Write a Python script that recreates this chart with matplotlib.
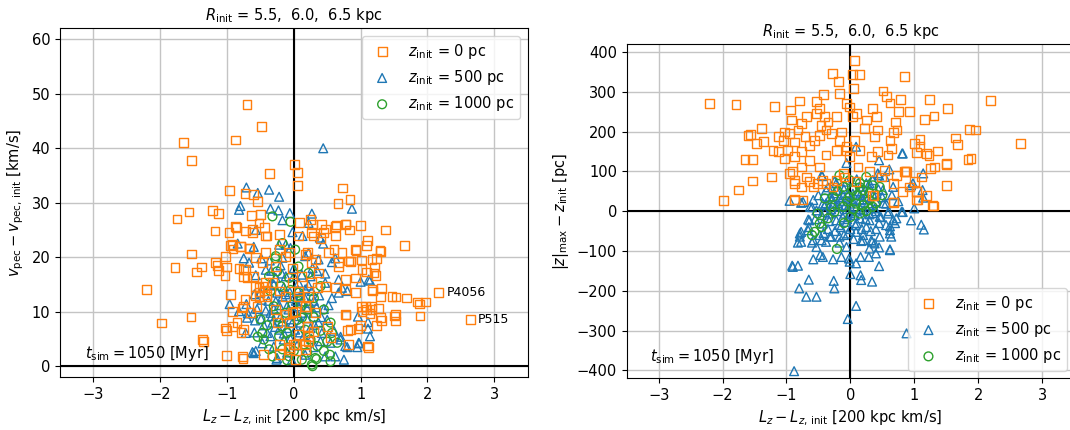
import numpy as np
import matplotlib
matplotlib.use("Agg")
import matplotlib.pyplot as plt

plt.rcParams["font.family"] = ["DejaVu Sans"]
plt.rcParams["mathtext.fontset"] = "dejavusans"

# ---------------------------------------------------------------
# Left panel: (Lz - Lz_init [200 kpc km/s], v_pec - v_pec_init [km/s])
# ---------------------------------------------------------------
vpec_z0 = [
    (-0.70, 48.0), (-0.48, 44.0), (-0.87, 41.5), (-1.65, 41.0), (-1.53, 37.7), (0.01, 37.0),
    (0.06, 35.5), (-0.36, 35.3), (0.06, 33.2), (0.73, 32.7), (-0.96, 32.3), (-0.73, 31.7),
    (0.84, 30.6), (-0.60, 31.5), (0.66, 29.9), (-0.54, 30.3), (-1.22, 28.6), (-1.57, 28.3),
    (-1.13, 28.0), (-1.75, 27.0), (-0.63, 27.6), (-1.18, 24.8), (-0.97, 24.6), (-0.86, 25.5),
    (-0.44, 25.4), (-0.50, 27.9), (1.00, 25.8), (1.37, 25.0), (0.64, 25.9), (0.78, 26.1),
    (0.83, 25.0), (0.47, 25.2), (0.28, 26.0), (0.08, 26.4), (1.66, 22.2), (1.10, 23.1),
    (1.09, 22.1), (1.29, 21.2), (0.93, 21.3), (1.24, 19.8), (1.01, 19.5), (1.21, 18.2),
    (1.23, 16.6), (1.09, 17.3), (0.85, 19.2), (1.31, 14.3), (1.18, 13.8), (1.53, 12.7),
    (1.69, 12.5), (1.85, 11.8), (1.97, 11.8), (1.88, 11.4), (2.17, 13.5), (2.65, 8.6),
    (1.89, 9.2), (1.52, 8.3), (1.51, 9.2), (1.31, 8.4), (1.24, 7.5), (1.01, 11.0),
    (1.09, 10.4), (1.16, 10.9), (1.14, 9.7), (1.27, 10.6), (1.12, 3.4), (0.96, 6.9),
    (0.80, 6.5), (0.78, 9.4), (1.00, 7.5), (-2.20, 14.1), (-1.98, 7.95), (-1.54, 9.05),
    (-1.35, 4.6), (-1.78, 18.1), (-1.53, 20.6), (-1.46, 17.3), (-1.38, 18.2), (-1.15, 18.5),
    (-1.13, 17.5), (-1.01, 18.2), (-1.03, 16.7), (-1.02, 20.1), (-0.95, 22.1), (-0.91, 21.5),
    (-0.80, 21.9), (-0.66, 21.6), (-1.01, 2.0), (-0.76, 1.4), (-0.45, 2.1), (-1.01, 6.6),
    (-0.95, 13.2), (-0.79, 6.2), (-0.85, 8.0), (-0.76, 10.9), (-0.73, 12.3), (-0.70, 16.2),
    (-0.75, 17.7), (-0.65, 9.8), (-0.57, 13.0), (-0.51, 13.6), (-0.57, 14.6), (-0.44, 13.9),
    (-0.92, 22.3), (-0.62, 24.5), (-0.40, 23.9), (-0.22, 24.2), (0.07, 23.9), (0.30, 23.9),
    (0.45, 24.5), (0.62, 23.9), (0.92, 21.4), (1.17, 19.6), (1.30, 21.1), (-1.17, 19.0),
    (-0.82, 18.0), (-0.72, 17.7), (-0.47, 19.0), (-0.27, 18.3), (-0.12, 20.2), (0.17, 20.5),
    (0.27, 19.0), (0.37, 17.1), (0.52, 20.8), (0.67, 19.0), (0.85, 19.3), (1.02, 17.7),
    (1.20, 17.1), (0.77, 15.9), (0.92, 16.2), (-0.42, 15.3), (-0.52, 14.4), (-0.40, 13.1),
    (-0.22, 13.8), (-0.02, 15.3), (0.07, 13.8), (0.22, 12.8), (0.35, 14.4), (0.62, 14.4),
    (0.77, 14.1), (0.92, 13.5), (1.17, 14.1), (1.30, 12.8), (1.47, 12.8), (1.52, 9.5),
    (1.30, 8.9), (1.07, 11.0), (1.02, 10.1), (1.17, 10.4), (0.77, 9.5), (0.85, 6.7),
    (1.10, 3.7), (0.82, 4.0), (0.55, 5.2), (0.50, 7.3), (0.30, 6.4), (0.20, 7.3),
    (0.22, 5.5), (0.17, 4.0), (0.02, 4.0), (-0.07, 3.4), (-0.22, 4.0), (-0.25, 8.0),
    (-0.12, 9.5), (0.02, 10.1), (0.17, 11.0), (-0.27, 10.4), (-0.55, 11.0), (-0.77, 10.7),
    (-0.92, 10.1), (-0.75, 6.7), (-0.92, 7.3), (-1.02, 7.0), (-0.77, 1.8), (-1.37, 4.9),
    (-0.87, 25.7), (-0.72, 24.8), (-0.62, 25.1), (-0.52, 26.3), (-0.42, 23.9), (-0.80, 22.0),
    (-0.67, 21.7), (-0.57, 19.9), (-0.42, 20.8), (-0.75, 16.5), (-0.60, 16.5), (-0.47, 14.7),
    (-0.32, 15.3), (-0.52, 12.8), (-0.40, 12.8), (-0.12, 12.8), (0.25, 26.9), (0.42, 26.0),
    (0.27, 24.5), (0.40, 23.5), (0.62, 25.7), (0.77, 26.0), (0.60, 21.4), (0.72, 20.8),
    (0.67, 18.3), (0.82, 19.3), (0.20, 20.8), (0.32, 19.6), (-0.07, 20.8), (-0.22, 21.4),
    (-0.02, 18.0), (0.12, 16.5), (0.27, 15.3), (0.47, 14.7), (0.07, 12.8), (0.17, 11.0),
    (0.32, 9.8), (-0.02, 9.8), (-0.07, 8.0), (0.20, 7.3), (0.07, 5.8), (0.00, 4.0),
    (0.22, 4.6), (0.17, 3.1), (-0.07, 3.1), (-0.22, 2.1), (0.02, 1.2),
]

vpec_z500 = [
    (0.44, 40.0), (-0.71, 32.8), (-0.54, 31.8), (-0.37, 32.4), (-0.22, 31.1), (-0.80, 29.4),
    (-0.82, 28.7), (-0.35, 28.9), (-0.23, 28.6), (-0.06, 28.1), (0.27, 28.0), (0.87, 28.9),
    (-0.17, 26.8), (0.22, 26.3), (-0.57, 25.0), (-0.02, 24.6), (0.13, 23.9), (0.39, 23.6),
    (0.44, 22.5), (-0.84, 22.5), (-0.60, 21.9), (-0.22, 22.3), (-0.12, 22.3), (-0.75, 19.8),
    (-0.49, 19.8), (-0.36, 19.4), (0.17, 20.2), (0.57, 19.1), (0.62, 19.8), (-0.57, 16.7),
    (-0.34, 17.5), (-0.18, 17.0), (0.47, 17.0), (0.67, 15.9), (1.00, 15.5), (1.14, 15.7),
    (0.80, 13.8), (0.67, 13.5), (-0.96, 11.4), (-0.71, 11.4), (-0.59, 13.2), (-0.69, 9.7),
    (-0.61, 9.7), (-0.58, 8.4), (-0.59, 6.2), (-0.72, 6.1), (-0.62, 2.6), (-0.57, 2.8),
    (-0.49, 8.7), (-0.47, 4.2), (-0.26, 1.2), (-0.03, 1.1), (0.75, 1.2), (0.62, 1.8),
    (0.95, 3.5), (1.14, 5.5), (1.11, 6.9), (0.96, 9.1), (1.11, 8.1), (0.70, 5.4),
    (0.80, 3.5), (0.98, 4.2), (-0.67, 19.0), (-0.82, 10.1), (-0.70, 8.9), (-0.60, 2.4),
    (-0.40, 6.1), (-0.32, 8.0), (-0.35, 9.8), (-0.27, 11.9), (-0.17, 12.8), (-0.10, 11.0),
    (-0.05, 8.6), (0.02, 6.7), (0.07, 9.2), (0.12, 11.9), (0.00, 12.5), (0.07, 11.0),
    (0.17, 14.1), (0.30, 9.8), (0.37, 8.0), (0.42, 6.1), (0.55, 4.3), (0.70, 4.9),
    (0.77, 3.7), (0.97, 4.3), (1.12, 15.9), (0.72, 14.4), (0.57, 12.5), (0.47, 15.3),
    (0.37, 19.6), (0.22, 20.8), (-0.05, 21.7), (-0.17, 19.9), (-0.30, 15.0), (-0.50, 13.5),
    (-0.22, 6.7), (-0.15, 4.9), (-0.25, 1.5), (0.47, 1.8), (0.17, 2.1), (0.07, 15.3),
    (-0.12, 16.5), (-0.42, 17.7), (-0.30, 10.5), (-0.20, 9.0), (-0.10, 7.0), (0.00, 10.0),
    (0.10, 8.0), (0.20, 10.5), (0.25, 7.0), (0.15, 5.5), (-0.05, 5.0), (-0.35, 5.5),
    (-0.45, 7.5), (-0.25, 13.5), (0.30, 12.0), (0.45, 10.5), (0.10, 13.0), (-0.15, 14.5),
    (0.25, 16.5), (0.00, 18.0), (0.30, 3.5), (-0.10, 2.5), (0.50, 8.5), (0.60, 6.5),
    (-0.55, 10.5), (0.35, 17.5), (-0.38, 12.0), (-0.33, 9.2), (-0.28, 7.2), (-0.22, 11.2),
    (-0.18, 8.2), (-0.12, 13.2), (-0.08, 10.4), (-0.02, 8.0), (0.03, 12.0), (0.06, 14.0),
    (0.09, 6.2), (0.13, 9.8), (0.16, 12.6), (0.19, 8.8), (0.23, 11.6), (0.27, 13.8),
    (0.31, 7.6), (0.34, 10.8), (0.38, 13.0), (0.41, 9.0), (-0.36, 14.8), (-0.27, 16.2),
    (-0.06, 13.6), (0.12, 16.8), (0.22, 14.8), (-0.42, 10.2), (-0.15, 6.0), (0.05, 3.8),
    (0.26, 5.0), (-0.30, 3.6), (0.40, 4.6), (0.52, 11.2), (-0.48, 12.2), (0.00, 16.5),
    (-0.20, 18.5), (0.28, 18.0),
]

vpec_z1000 = [
    (-0.05, 26.5), (-0.32, 27.5), (-0.28, 19.8), (0.28, 0.0), (0.34, 1.3), (0.54, 2.1),
    (-0.10, 1.1), (-0.54, 5.4), (-0.27, 20.2), (-0.25, 17.4), (-0.37, 16.5), (-0.50, 8.6),
    (-0.47, 6.1), (-0.45, 4.9), (-0.37, 3.1), (-0.22, 5.5), (-0.17, 7.3), (-0.10, 6.1),
    (-0.05, 4.9), (0.00, 2.8), (-0.07, 1.8), (0.12, 1.2), (0.27, 0.3), (0.32, 1.5),
    (0.35, 3.7), (0.25, 4.9), (0.17, 6.7), (0.12, 8.9), (0.22, 10.4), (0.30, 12.5),
    (0.07, 13.5), (-0.02, 11.3), (-0.12, 9.8), (-0.30, 11.0), (-0.35, 13.8), (-0.20, 14.7),
    (-0.07, 16.2), (0.07, 18.3), (0.22, 17.1), (0.40, 14.7), (0.45, 10.4), (0.55, 8.0),
    (0.57, 6.1), (0.65, 4.3), (0.45, 2.8), (0.55, 0.9), (-0.17, 3.1), (-0.32, 1.8),
    (0.02, 21.4), (-0.17, 22.6), (0.05, 8.5), (0.15, 4.0), (-0.25, 9.0), (0.40, 6.5),
    (-0.05, 14.0), (0.30, 9.0), (0.10, 11.5), (-0.40, 7.5), (0.20, 2.5), (0.50, 4.5),
]

# ---------------------------------------------------------------
# Right panel: (Lz - Lz_init [200 kpc km/s], |z|_max - z_init [pc])
# ---------------------------------------------------------------
zmax_z0 = [
    (-2.21, 271), (-1.79, 269), (-1.19, 264), (-1.98, 26), (-1.75, 53), (-1.53, 76),
    (-1.65, 130), (-1.53, 130), (-1.23, 86), (-1.56, 193), (-1.60, 191), (-1.47, 170),
    (-1.36, 176), (-1.39, 208), (-1.21, 153), (-1.13, 188), (-1.03, 199), (-0.92, 229),
    (-0.94, 254), (-0.79, 277), (-0.76, 220), (-0.53, 275), (-0.42, 294), (-0.28, 346),
    (-0.19, 325), (-0.17, 296), (-0.06, 271), (0.05, 308), (0.04, 344), (0.07, 378),
    (-1.05, 178), (-0.95, 195), (-0.82, 204), (-0.71, 187), (-0.87, 174), (-0.98, 153),
    (-1.13, 149), (-1.03, 132), (-0.87, 137), (-0.77, 149), (-0.64, 166), (-0.56, 178),
    (-0.48, 191), (-0.38, 204), (-0.69, 237), (-0.53, 245), (-0.48, 258), (-0.40, 237),
    (-0.35, 224), (-0.22, 237), (-0.46, 216), (-0.30, 195), (-0.17, 178), (-0.06, 162),
    (-0.22, 153), (-0.38, 141), (-0.48, 111), (-0.64, 128), (-0.77, 111), (-0.90, 99),
    (-0.69, 86), (-0.58, 61), (-0.77, 61), (-0.87, 70), (-0.95, 95), (-0.74, 28),
    (-0.87, 29), (-0.27, 61), (-0.43, 78), (-0.11, 95), (-0.01, 137), (-0.14, 199),
    (0.04, 237), (-0.01, 262), (0.10, 245),
    (0.14, 344), (0.85, 338), (0.51, 302), (0.56, 289), (0.62, 272), (0.78, 281),
    (1.24, 281), (1.52, 258), (2.19, 278), (1.31, 239), (1.16, 230), (0.93, 251),
    (0.75, 251), (1.87, 205), (1.96, 204), (1.65, 184), (1.68, 168), (2.66, 170),
    (1.84, 130), (1.89, 132), (1.51, 117), (1.50, 65), (1.30, 13), (1.36, 151),
    (1.23, 139), (1.25, 107), (1.32, 111), (1.09, 180), (1.01, 170), (1.09, 162),
    (1.19, 145), (1.04, 147), (0.86, 99), (1.01, 74), (1.20, 40), (1.06, 28),
    (0.67, 21), (0.37, 40), (0.73, 204), (0.71, 224), (0.67, 197), (0.35, 258),
    (0.41, 237), (0.25, 229), (0.22, 208), (0.43, 204), (0.38, 187), (0.62, 178),
    (0.64, 157), (0.59, 141), (0.43, 149), (0.33, 137), (0.15, 153), (0.07, 178),
    (-0.06, 153), (0.12, 111), (0.30, 99), (0.54, 103), (0.72, 90), (0.82, 49),
    (0.67, 70), (0.49, 86), (0.93, 61), (1.03, 49), (1.11, 86), (0.88, 99),
    (0.35, 40), (0.09, 74), (-0.09, 86), (-0.22, 78), (-0.38, 70), (-0.51, 70),
    (-0.64, 74), (-0.87, 78), (-0.87, 28), (0.67, 23), (1.03, 28), (1.29, 15),
    (0.85, 99), (1.03, 49), (1.50, 120),
]

zmax_z500 = [
    (-0.88, -402), (0.88, -307), (-0.04, -271), (0.09, -238), (-0.80, -194), (-0.69, -215),
    (-0.53, -215), (-0.65, -172), (-0.25, -194), (-0.26, -175), (0.00, -158), (0.16, -161),
    (0.17, -173), (0.34, -177), (-0.91, -137), (-0.82, -137), (-0.58, -121), (-0.47, -110),
    (-0.27, -121), (-0.02, -119), (0.09, -131), (0.16, -115), (0.29, -115), (0.45, -138),
    (0.40, -106), (0.62, -96), (0.45, -91), (0.34, -77), (0.17, -75), (-0.06, -90),
    (-0.17, -79), (-0.32, -64), (-0.45, -73), (-0.60, -79), (-0.53, -90), (-0.79, -56),
    (-0.77, -77), (-0.82, -79), (-0.66, -21), (-0.63, 11), (-0.95, 26), (-0.77, 21),
    (1.11, -34), (1.15, -46), (0.95, -23), (0.80, -2), (1.00, 7), (1.13, 53),
    (1.14, 34), (0.81, 145), (0.95, 65), (0.09, 162), (0.45, 128), (0.61, 105),
    (0.45, 90), (0.62, -38), (0.67, -23), (0.62, -56), (-0.06, 121), (-0.44, 88),
    (-0.74, 23), (-0.58, 28), (-0.45, 90), (-0.43, 19), (-0.32, 36), (-0.22, 70),
    (-0.06, 74), (0.15, 61), (0.30, 70), (0.43, 95), (0.54, 86), (0.67, 61),
    (0.82, 145), (0.98, 70), (1.14, 95), (0.82, -2), (-0.64, -23), (-0.66, -48),
    (-0.77, -52), (-0.79, -64), (-0.58, -73), (-0.48, -60), (-0.38, -77), (-0.30, -64),
    (-0.17, -64), (-0.04, -56), (0.09, -52), (0.20, -73), (0.33, -73), (0.38, -81),
    (0.46, -64), (0.62, -48), (0.64, -64), (0.62, -98), (0.30, -94), (-0.01, -127),
    (-0.14, -115), (-0.43, -115), (-0.90, -140), (-0.43, -31), (-0.22, -23), (-0.06, -27),
    (0.15, -18), (0.30, -23), (0.46, -14), (0.59, -6), (0.72, -18), (-0.32, -6),
    (-0.17, 11), (-0.01, 19), (0.15, 28), (0.25, 36), (0.41, 44), (0.51, 53),
    (0.35, 78), (0.04, 44), (-0.11, 40), (-0.27, 19), (-0.40, -2), (-0.53, 2),
    (0.20, 2), (0.38, 7), (-0.09, -6), (0.07, -10), (-0.22, 53), (-0.38, 53),
    (0.56, 19), (-0.20, 20), (0.00, 30), (0.10, 10), (0.20, 45), (-0.10, 55),
    (0.30, 15), (0.40, 25), (-0.30, 5), (0.05, -10), (-0.15, -40), (0.25, -40),
    (0.10, -30), (-0.05, -20), (0.35, -5), (-0.25, 45), (0.15, 40), (-0.40, 15),
    (0.50, 35), (0.00, -45), (-0.35, -45), (0.30, 60), (-0.15, 25), (0.20, -60),
    (0.45, -30), (-0.45, -10), (-0.38, 20), (-0.33, -25), (-0.28, 30), (-0.24, -50),
    (-0.20, 0), (-0.16, 35), (-0.12, -15), (-0.08, 15), (-0.04, 45), (0.00, -5),
    (0.04, 25), (0.08, -35), (0.12, 50), (0.16, 5), (0.20, 30), (0.24, -20),
    (0.28, 20), (0.32, -50), (0.36, 40), (0.40, 0), (0.44, 55), (0.48, -15),
    (0.52, 20), (0.56, -35), (-0.50, 40), (-0.55, -20), (-0.60, 10), (-0.35, 60),
    (0.25, 70), (0.10, 80), (-0.10, -60), (0.05, -70), (0.40, -45), (0.60, 0),
    (0.65, 40), (-0.25, 75), (0.30, -8), (-0.05, 5), (0.18, -45), (-0.42, -55),
    (0.70, -30), (0.75, 25), (-0.65, -40), (-0.18, -35),
]

zmax_z1000 = [
    (-0.21, -95), (0.09, 19), (0.20, 53), (0.15, 70), (-0.01, 78), (-0.11, 61),
    (0.30, 28), (0.35, 11), (-0.11, 11), (-0.27, 36), (-0.35, -18), (-0.48, -31),
    (-0.56, -52), (-0.51, -6), (0.46, 61), (0.04, 53), (-0.17, 90), (0.25, 86),
    (-0.40, 32), (-0.25, -2), (0.15, -6), (-0.01, 36), (0.05, 5), (0.20, 15),
    (0.10, 40), (-0.05, 25), (0.30, 45), (0.40, 20), (-0.20, 50), (0.25, 0),
    (0.00, -15), (-0.30, 10), (0.15, 60), (0.35, 65), (-0.10, -30), (0.50, 40),
    (-0.45, -40), (-0.60, -60),
]

labels = [r"$z_{\rm init}$ = 0 pc", r"$z_{\rm init}$ = 500 pc", r"$z_{\rm init}$ = 1000 pc"]
title = r"$R_{\rm init}$ = 5.5,  6.0,  6.5 kpc"
tsim_text = r"$t_{\rm sim} = 1050$ [Myr]"
xticks = [-3, -2, -1, 0, 1, 2, 3]

col0, col500, col1000 = "#ff7f0e", "#1f77b4", "#2ca02c"

fig = plt.figure(figsize=(10.7, 4.3), dpi=100)
axL = fig.add_axes([0.0561, 0.123, 0.437, 0.811])
axR = fig.add_axes([0.5857, 0.1202, 0.418, 0.7774])


def draw(ax, s0, s500, s1000):
    x0, y0 = np.array(s0).T
    x5, y5 = np.array(s500).T
    x1, y1 = np.array(s1000).T
    kw = dict(s=40, facecolors="none", linewidths=1.0)
    h5 = ax.scatter(x5, y5, marker="^", edgecolors=col500, zorder=3, **kw)
    h1 = ax.scatter(x1, y1, marker="o", edgecolors=col1000, zorder=3, **kw)
    h0 = ax.scatter(x0, y0, marker="s", edgecolors=col0, zorder=3, **kw)
    ax.axhline(0, color="black", lw=1.5, zorder=2)
    ax.axvline(0, color="black", lw=1.5, zorder=2)
    ax.grid(True, color="#c4c4c4", lw=1.0, zorder=0)
    ax.set_axisbelow(True)
    ax.set_xlim(-3.5, 3.5)
    ax.set_xticks(xticks)
    ax.set_xlabel(r"$L_z - L_{z,\,\rm init}$ [200 kpc km/s]", fontsize=10.5)
    ax.set_title(title, fontsize=10.5)
    ax.tick_params(labelsize=10.5)
    return [h0, h5, h1]


hL = draw(axL, vpec_z0, vpec_z500, vpec_z1000)
axL.set_ylim(-2, 62)
axL.set_yticks([0, 10, 20, 30, 40, 50, 60])
axL.set_ylabel(r"$v_{\rm pec} - v_{\rm pec,\,init}$ [km/s]", fontsize=10.5)
axL.legend(hL, labels, loc="upper right", fontsize=10.5, scatterpoints=1)
axL.text(-3.13, 2.4, tsim_text, fontsize=10.5, va="center", ha="left")
axL.text(2.29, 13.5, "P4056", fontsize=9, va="center", ha="left")
axL.text(2.75, 8.6, "P515", fontsize=9, va="center", ha="left")

hR = draw(axR, zmax_z0, zmax_z500, zmax_z1000)
axR.set_ylim(-420, 420)
axR.set_yticks([-400, -300, -200, -100, 0, 100, 200, 300, 400])
axR.set_ylabel(r"$|z|_{\rm max} - z_{\rm init}$ [pc]", fontsize=10.5)
axR.legend(hR, labels, loc="lower right", fontsize=10.5, scatterpoints=1)
axR.text(-3.14, -366, tsim_text, fontsize=10.5, va="center", ha="left")

fig.savefig("out.png", dpi=100)
